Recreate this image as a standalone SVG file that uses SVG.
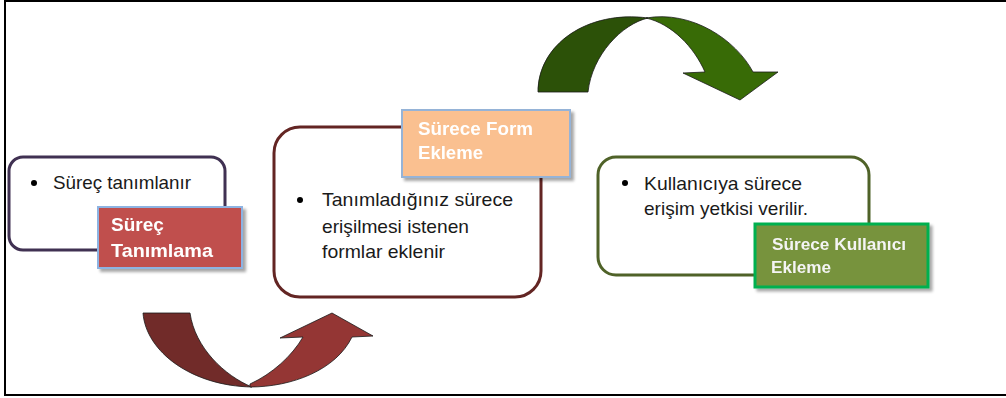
<svg xmlns="http://www.w3.org/2000/svg" width="1006" height="398" viewBox="0 0 1006 398">
<defs>
<filter id="sh" x="-10%" y="-10%" width="130%" height="140%">
<feGaussianBlur in="SourceAlpha" stdDeviation="1.5"/>
<feOffset dx="3" dy="3" result="b"/>
<feComponentTransfer><feFuncA type="linear" slope="0.35"/></feComponentTransfer>
<feMerge><feMergeNode/><feMergeNode in="SourceGraphic"/></feMerge>
</filter>
</defs>
<style>
.box{fill:#ffffff;stroke-width:3}
.txt{font-family:"Liberation Sans",Arial,sans-serif;font-size:19px;fill:#1a1a1a}
.lbl{font-family:"Liberation Sans",Arial,sans-serif;font-size:19px;font-weight:bold;fill:#ffffff}
.lbl3{font-family:"Liberation Sans",Arial,sans-serif;font-size:17px;font-weight:bold;fill:#f4f4f4}
.arr{stroke:#1a1a1a;stroke-width:0.8;stroke-linejoin:round}
</style>
<rect width="1006" height="398" fill="#ffffff"/>
<g id="frame" fill="none" stroke="#000000" stroke-width="2">
<path d="M1010,1 L5,1 L5,395 L1010,395"/>
</g>
<g id="connectors">
<path class="arr" fill="#712b29" d="M143,313 C146,352 192,386 252,387 C225,376 195,348 190,313 Z"/>
<path class="arr" fill="#943634" d="M250,387 C292,387 336,370 352,337 L373,336 L332,313 L280,338 L303,337 C292,356 272,374 250,384 Z"/>
<path class="arr" fill="#2c5108" d="M538,92 C538,44 588,10 648,18 C622,24 592,55 588,92 Z"/>
<path class="arr" fill="#386b06" d="M646,18 C692,10 736,40 753,72 L778,72 L740,100 L683,73 L705,72 C694,47 672,24 646,18 Z"/>
</g>
<g id="node1">
<rect class="box" x="9" y="157" width="216" height="93" rx="14" stroke="#403152"/>
<circle cx="34" cy="183" r="3" fill="#000"/>
<text class="txt" x="53" y="189" textLength="138" lengthAdjust="spacingAndGlyphs">Süreç tanımlanır</text>
</g>
<g id="label1" filter="url(#sh)">
<rect x="98" y="207" width="144" height="61" fill="#c0504d" stroke="#8db3e2" stroke-width="2"/>
<text class="lbl" x="111" y="231">Süreç</text>
<text class="lbl" x="111" y="257" textLength="102" lengthAdjust="spacingAndGlyphs">Tanımlama</text>
</g>
<g id="node2">
<rect class="box" x="274" y="127" width="267" height="170" rx="26" stroke="#632523"/>
<circle cx="300" cy="200" r="3" fill="#000"/>
<text class="txt" x="322" y="206" textLength="191" lengthAdjust="spacingAndGlyphs">Tanımladığınız  sürece</text>
<text class="txt" x="322" y="233" textLength="147" lengthAdjust="spacingAndGlyphs">erişilmesi istenen</text>
<text class="txt" x="322" y="258" textLength="123" lengthAdjust="spacingAndGlyphs">formlar eklenir</text>
</g>
<g id="label2" filter="url(#sh)">
<rect x="402" y="110" width="168" height="67" fill="#fac090" stroke="#95b3d7" stroke-width="2"/>
<text class="lbl" x="418" y="135" textLength="115" lengthAdjust="spacingAndGlyphs">Sürece Form</text>
<text class="lbl" x="418" y="159" textLength="65" lengthAdjust="spacingAndGlyphs">Ekleme</text>
</g>
<g id="node3">
<rect class="box" x="598" y="157" width="271" height="118" rx="18" stroke="#4f6228"/>
<circle cx="625" cy="183" r="3" fill="#000"/>
<text class="txt" x="644" y="190" textLength="158" lengthAdjust="spacingAndGlyphs">Kullanıcıya sürece</text>
<text class="txt" x="644" y="215" textLength="164" lengthAdjust="spacingAndGlyphs">erişim yetkisi verilir.</text>
</g>
<g id="label3" filter="url(#sh)">
<rect x="755" y="224" width="173" height="63" fill="#77933c" stroke="#00b050" stroke-width="3"/>
<text class="lbl3" x="772" y="250" textLength="134" lengthAdjust="spacingAndGlyphs">Sürece Kullanıcı</text>
<text class="lbl3" x="771" y="273" textLength="60" lengthAdjust="spacingAndGlyphs">Ekleme</text>
</g>
</svg>
